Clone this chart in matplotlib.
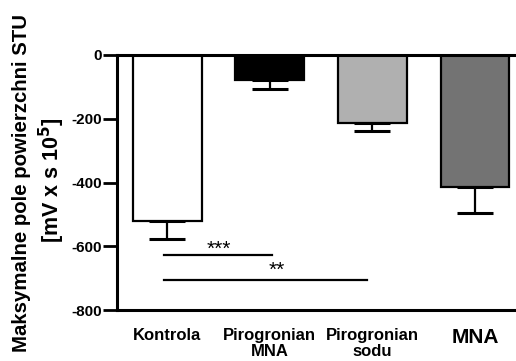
import matplotlib
matplotlib.use("Agg")
import matplotlib.pyplot as plt

categories = ["Kontrola", "Pirogronian\nMNA", "Pirogronian\nsodu", "MNA"]
means = [-520, -78, -213, -414]
errors = [58, 29, 25, 81]
colors = ["#ffffff", "#000000", "#b0b0b0", "#737373"]
yticks = [0, -200, -400, -600, -800]
sig_pairs = [(0, 1, -627, "***"), (0, 2, -705, "**")]

plt.rcParams['font.family'] = ['Liberation Sans', 'DejaVu Sans']
plt.rcParams['font.weight'] = 'bold'

fig = plt.figure(figsize=(5.16, 3.61), dpi=100)
ax = fig.add_axes([117/516, 1-310/361, 1-117/516, (310-55)/361])

x = list(range(len(categories)))
ax.bar(x, means, width=0.67, color=colors, edgecolor="black", linewidth=1.6, zorder=2)
ax.errorbar(x, means, yerr=[errors, [0]*len(errors)], fmt="none", ecolor="black",
            elinewidth=1.6, capsize=13, capthick=2.2, zorder=1)

for i, j, yv, lab in sig_pairs:
    x0 = i - 0.03
    x1 = j + 0.02 if j == 1 else j - 0.05
    ax.plot([x0, x1], [yv, yv], color="black", lw=1.6)
for (i, j, yv, lab), xt, yoff in zip(sig_pairs, [0.5, 1.07], [0, 13]):
    ax.text(xt, yv + yoff, lab, ha="center", va="baseline", fontsize=15,
            fontweight="normal")

ax.set_xlim(-0.49, 3.40)
ax.set_ylim(-800, 0)
ax.set_yticks(yticks)
ax.set_yticklabels([str(t) for t in yticks], fontsize=11, fontweight="bold")
ax.tick_params(axis='y', length=10, width=2, pad=1)
ax.tick_params(axis='x', length=0, pad=13)
ax.set_xticks(x)
ax.set_xticklabels(categories, fontsize=12, fontweight="bold", linespacing=1.1)
for lbl, fs in zip(ax.get_xticklabels(), [12, 12, 12, 15]):
    lbl.set_fontsize(fs)
    lbl.set_va("top")

for s in ["left", "top", "bottom"]:
    ax.spines[s].set_linewidth(2.2)
ax.spines["right"].set_visible(False)

fig.text(22/516, 1-183/361, "Maksymalne pole powierzchni STU", rotation=90,
         ha="center", va="center", fontsize=14.7, fontweight="bold")
fig.text(52/516, 1-180/361, r"[mV x s 10$^{\mathbf{5}}$]", rotation=90,
         ha="center", va="center", fontsize=15.5, fontweight="bold")

fig.savefig("out.png", dpi=100)
